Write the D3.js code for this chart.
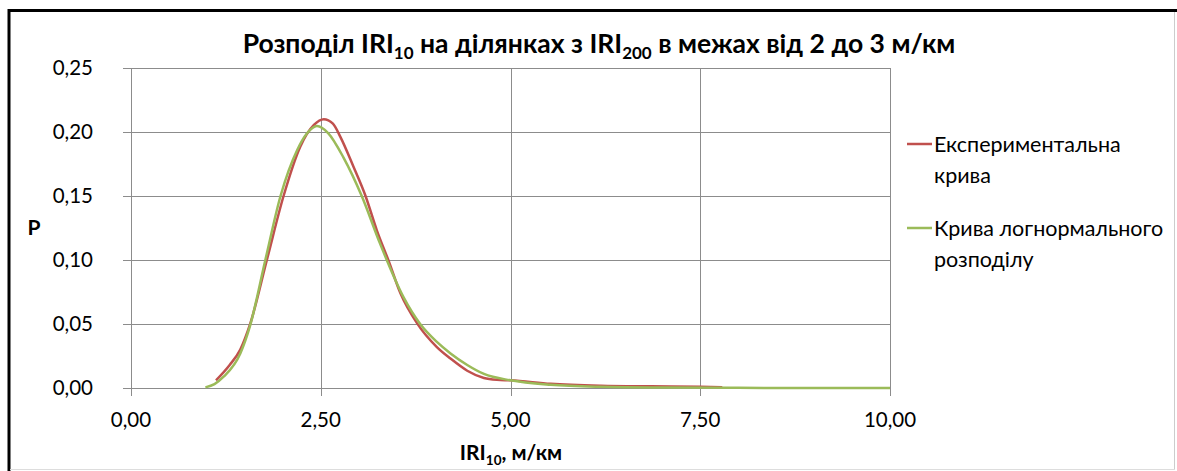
<!DOCTYPE html>
<html>
<head>
<meta charset="utf-8">
<script src="https://d3js.org/d3.v7.min.js"></script>
<style>
  body { margin: 0; background: #fff; }
  text { font-family: Lato, "Open Sans", sans-serif; fill: #000; }
</style>
</head>
<body>
<div id="chart"></div>
<script>
// experimental curve (red)
var expX = [1.12, 1.30, 1.44, 1.57, 1.79, 2.01, 2.23, 2.41, 2.54, 2.66, 2.76, 2.93, 3.09, 3.24, 3.39, 3.55, 3.77, 4.03, 4.21, 4.43, 4.65, 4.82, 5.00, 5.53, 6.19, 6.85, 7.50, 7.79];
var expY = [0.006, 0.018, 0.030, 0.050, 0.100, 0.150, 0.1885, 0.2055, 0.210, 0.2065, 0.196, 0.173, 0.150, 0.123, 0.100, 0.074, 0.0505, 0.032, 0.023, 0.0135, 0.0078, 0.0064, 0.006, 0.0033, 0.0018, 0.0013, 0.001, 0.0006];

// lognormal curve (green)
var logX = [0.98, 1.10, 1.22, 1.44, 1.57, 1.77, 1.97, 2.19, 2.32, 2.45, 2.60, 2.80, 3.04, 3.28, 3.59, 3.81, 4.03, 4.21, 4.43, 4.65, 5.00, 5.53, 6.19, 7.00, 8.00, 9.00, 10.00];
var logY = [0.0005, 0.003, 0.0088, 0.027, 0.049, 0.100, 0.150, 0.186, 0.199, 0.2047, 0.199, 0.180, 0.150, 0.113, 0.071, 0.050, 0.036, 0.027, 0.018, 0.011, 0.006, 0.0025, 0.0009, 0.0003, 0.0001, 0, 0];

var xTicks = [0, 2.5, 5, 7.5, 10];
var yTicks = [0, 0.05, 0.10, 0.15, 0.20, 0.25];
var seriesNames = ["Експериментальна крива", "Крива логнормального розподілу"];
var colors = ["#C0504D", "#9BBB59"];

var W = 1177, H = 471;
var svg = d3.select("#chart").append("svg").attr("width", W).attr("height", H);

// frame
svg.append("line").attr("x1", 9).attr("x2", 1177).attr("y1", 10.5).attr("y2", 10.5).attr("stroke", "#000").attr("stroke-width", 3);
svg.append("line").attr("x1", 9).attr("x2", 9).attr("y1", 9).attr("y2", 471).attr("stroke", "#000").attr("stroke-width", 3);
svg.append("line").attr("x1", 1174.5).attr("x2", 1174.5).attr("y1", 12).attr("y2", 470).attr("stroke", "#ccc").attr("stroke-width", 1);
svg.append("line").attr("x1", 10).attr("x2", 1175).attr("y1", 469.5).attr("y2", 469.5).attr("stroke", "#ddd").attr("stroke-width", 1);

var x = d3.scaleLinear().domain([0, 10]).range([131, 890]);
var y = d3.scaleLinear().domain([0, 0.25]).range([388, 68]);
var fmt = d => d3.format(".2f")(d).replace(".", ",");

// gridlines
svg.append("g").selectAll("line").data(yTicks).enter().append("line")
  .attr("x1", x(0) - 8).attr("x2", x(10)).attr("y1", d => Math.round(y(d)) + 0.5).attr("y2", d => Math.round(y(d)) + 0.5)
  .attr("stroke", "#8c8c8c").attr("stroke-width", 1);
svg.append("g").selectAll("line").data(xTicks).enter().append("line")
  .attr("y1", y(0.25)).attr("y2", y(0) + 8).attr("x1", d => Math.round(x(d)) + 0.5).attr("x2", d => Math.round(x(d)) + 0.5)
  .attr("stroke", "#8c8c8c").attr("stroke-width", 1);

// tick labels
svg.append("g").selectAll("text").data(yTicks).enter().append("text")
  .attr("x", 93).attr("y", d => y(d)).attr("dy", "0.35em").attr("text-anchor", "end")
  .style("font-size", "20.5px").text(fmt);
svg.append("g").selectAll("text").data(xTicks).enter().append("text")
  .attr("x", d => x(d)).attr("y", 420).attr("dy", "0.35em").attr("text-anchor", "middle")
  .style("font-size", "20.5px").text(fmt);

// curves
var line = d3.line().x(d => x(d[0])).y(d => y(d[1])).curve(d3.curveMonotoneX);
var expData = expX.map((v, i) => [v, expY[i]]);
var logData = logX.map((v, i) => [v, logY[i]]);
svg.append("path").datum(expData).attr("fill", "none").attr("stroke", colors[0]).attr("stroke-width", 2.5).attr("d", line);
svg.append("path").datum(logData).attr("fill", "none").attr("stroke", colors[1]).attr("stroke-width", 2.5).attr("d", line);

// title
var title = svg.append("text").attr("x", 599).attr("y", 53).attr("text-anchor", "middle")
  .style("font-size", "26.5px").style("font-weight", "bold");
title.append("tspan").text("Розподіл IRI");
title.append("tspan").text("10").style("font-size", "17px").attr("dy", 6);
title.append("tspan").text(" на ділянках з IRI").attr("dy", -6);
title.append("tspan").text("200").style("font-size", "17px").attr("dy", 6);
title.append("tspan").text(" в межах від 2 до 3 м/км").attr("dy", -6);

// axis titles
var xt = svg.append("text").attr("x", 511).attr("y", 460).attr("text-anchor", "middle")
  .style("font-size", "21px").style("font-weight", "bold");
xt.append("tspan").text("IRI");
xt.append("tspan").text("10").style("font-size", "13.5px").attr("dy", 5);
xt.append("tspan").text(", м/км").attr("dy", -5);
svg.append("text").attr("x", 34).attr("y", 228).attr("dy", "0.35em").attr("text-anchor", "middle")
  .style("font-size", "21px").style("font-weight", "bold").text("P");

// legend
var legY = [144, 228];
seriesNames.forEach((name, i) => {
  var g = svg.append("g");
  g.append("line").attr("x1", 907).attr("x2", 932).attr("y1", legY[i]).attr("y2", legY[i])
    .attr("stroke", colors[i]).attr("stroke-width", 2.5);
  var words = name.split(" ");
  var first = words.slice(0, -1).join(" ");
  var second = words[words.length - 1];
  g.append("text").attr("x", 934).attr("y", legY[i]).attr("dy", "0.35em").style("font-size", "21.5px").text(first);
  g.append("text").attr("x", 934).attr("y", legY[i] + 31).attr("dy", "0.35em").style("font-size", "21.5px").text(second);
});
</script>
</body>
</html>
